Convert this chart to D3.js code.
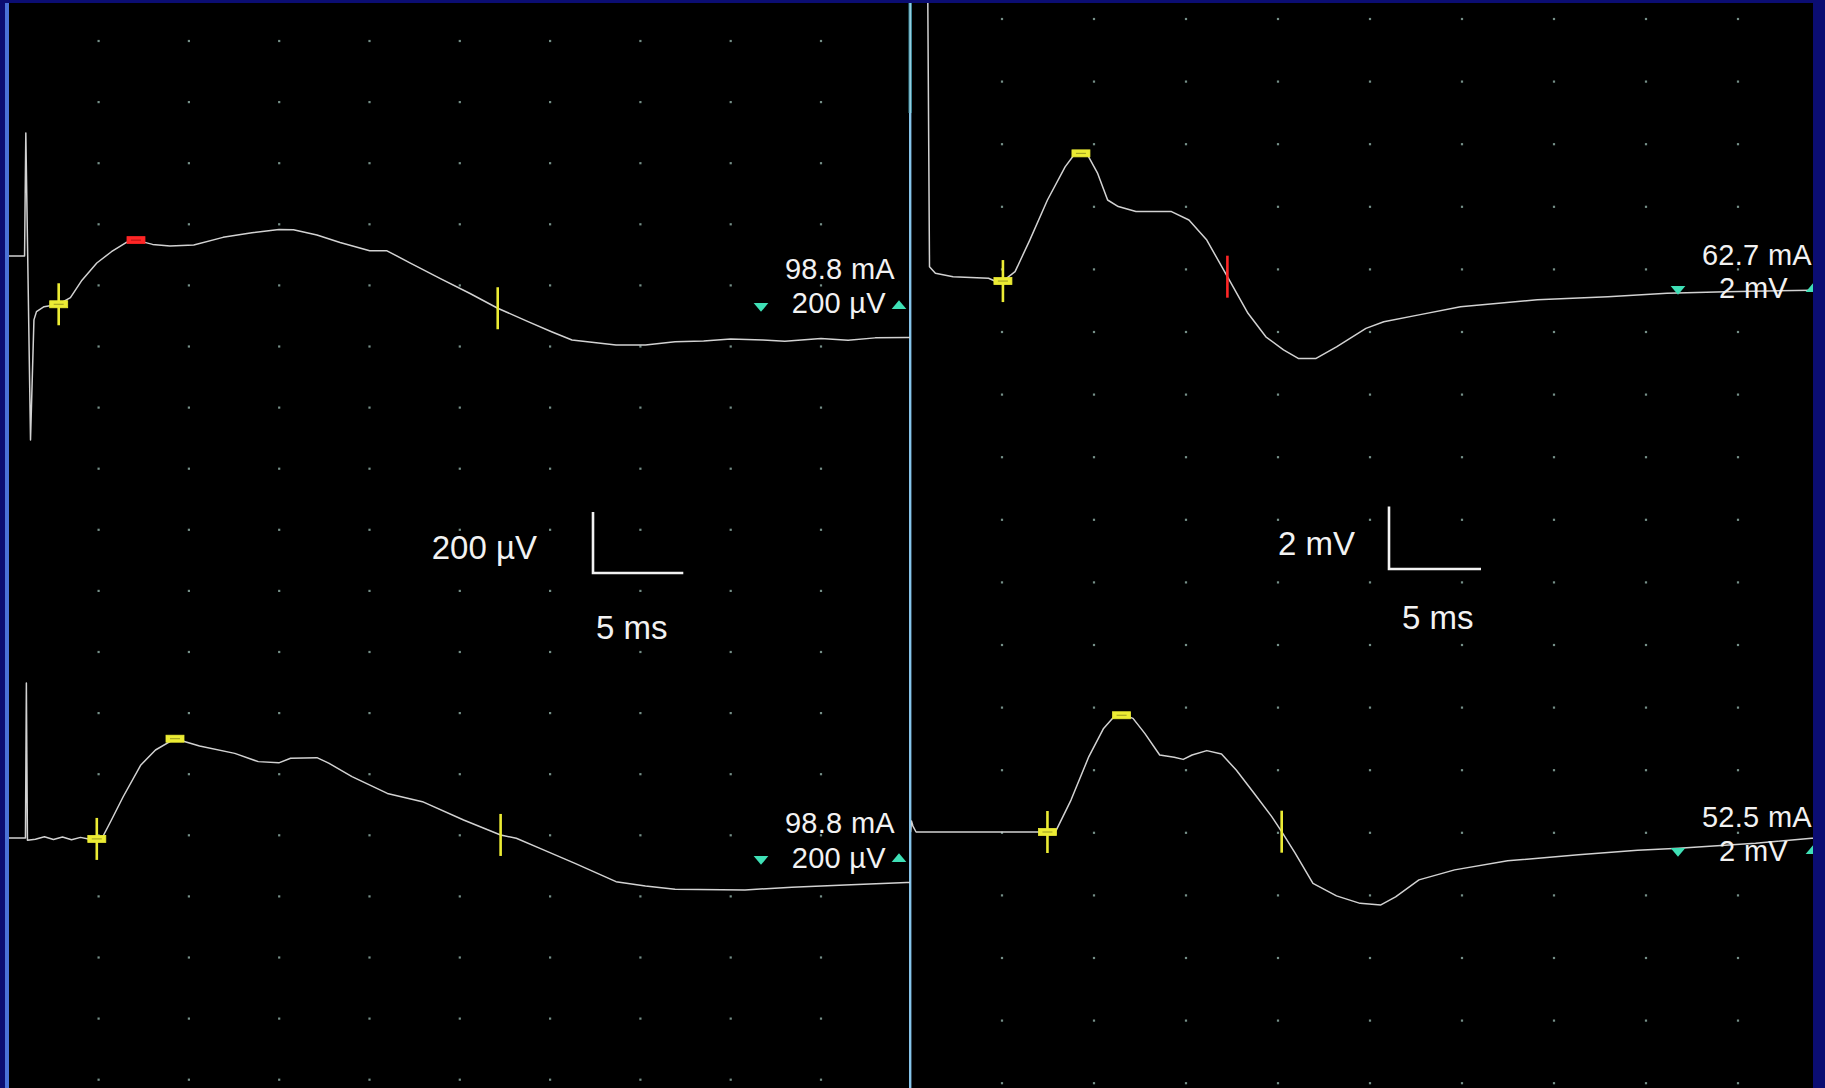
<!DOCTYPE html>
<html>
<head>
<meta charset="utf-8">
<script src="https://cdn.jsdelivr.net/npm/d3@7"></script>
<style>
  html, body { margin: 0; padding: 0; background: #0b0d72; overflow: hidden; }
  svg { display: block; }
  text { font-family: "Liberation Sans", Arial, sans-serif; fill: #f2f2f2; }
</style>
</head>
<body>
<svg id="chart" width="1825" height="1088"></svg>
<script>
// ---- Recorded traces: time in ms, amplitude in µV (left) or mV (right) ----
const leftTopTime = [0.03, 0.84, 0.9, 0.97, 1.23, 1.42, 1.56, 1.98, 2.79, 3.44, 4.08, 4.90, 5.71, 6.52, 7.07, 7.99, 8.95, 10.27, 11.89, 13.49, 14.99, 15.79, 17.09, 18.37, 20.01, 20.97, 22.29, 23.90, 25.54, 27.10, 28.78, 30.08, 31.21, 33.65, 35.28, 36.92, 38.5, 40.0, 41.79, 43.0, 45.0, 46.5, 48.0, 49.75, 50];
const leftTopAmp = [0, 0, 0, 403, -602, -209, -182, -166, -158, -136, -79, -23, 14, 44, 52, 38, 33, 36, 61, 76, 87, 86, 69, 44, 17, 17, -24, -73, -122, -171, -215, -248, -275, -291, -291, -281, -278, -272, -275, -279, -270, -276, -268, -267, -267];

const leftBottomTime = [0.03, 0.95, 1.0, 1.06, 1.5, 2.0, 2.5, 3.0, 3.5, 4.0, 4.5, 4.90, 5.23, 5.71, 6.36, 7.34, 8.15, 9.23, 10.59, 12.54, 13.84, 14.98, 15.63, 17.09, 17.74, 19.03, 20.99, 22.93, 25.21, 27.26, 28.13, 29.44, 31.38, 33.65, 35.28, 36.92, 40.79, 43.39, 46.33, 49.75, 50];
const leftBottomAmp = [0, 0, 507, -7, -4, 4, -5, 3, -6, 2, -4, -3, 4, 59, 135, 239, 288, 325, 301, 277, 250, 246, 261, 263, 245, 201, 146, 119, 59, 10, -1, -34, -83, -143, -157, -168, -170, -161, -154, -146, -146];

const rightTopTime = [0.96, 1.06, 1.38, 2.34, 4.27, 4.73, 5.05, 5.71, 6.51, 7.47, 8.43, 8.91, 9.29, 9.65, 10.20, 10.74, 11.32, 12.28, 14.21, 15.16, 16.13, 17.25, 18.37, 19.34, 20.30, 21.10, 22.07, 23.18, 24.78, 25.75, 27.66, 29.92, 34.09, 37.93, 41.14, 44.35, 49.0, 50];
const rightTopAmp = [9.5, 0.33, 0.12, 0.01, -0.04, -0.16, -0.13, 0.17, 1.18, 2.46, 3.52, 3.90, 3.95, 3.90, 3.31, 2.46, 2.25, 2.09, 2.09, 1.82, 1.18, 0.01, -1.16, -1.91, -2.33, -2.60, -2.60, -2.23, -1.64, -1.43, -1.21, -0.95, -0.73, -0.63, -0.52, -0.47, -0.42, -0.41];

const rightBottomTime = [0.03, 0.08, 0.16, 0.33, 0.42, 7.47, 7.95, 8.75, 9.72, 10.52, 11.00, 11.32, 11.68, 12.12, 12.76, 13.57, 14.36, 14.85, 15.33, 16.13, 16.93, 17.73, 18.70, 19.66, 20.20, 20.94, 21.90, 23.18, 24.46, 25.59, 26.39, 27.66, 29.60, 32.48, 36.33, 39.54, 41.78, 45.95, 49.0, 50];
const rightBottomAmp = [0, 0.35, 0.19, 0, 0, 0, 0.06, 1.02, 2.41, 3.31, 3.63, 3.74, 3.72, 3.63, 3.15, 2.46, 2.39, 2.32, 2.46, 2.60, 2.49, 1.98, 1.24, 0.49, 0.01, -0.68, -1.64, -2.04, -2.28, -2.33, -2.07, -1.53, -1.21, -0.92, -0.73, -0.58, -0.52, -0.36, -0.2, -0.17];

// ---- Cursor markers (ms) and their kinds ----
const leftTopMarkTimes = [2.79, 7.07, 27.1];
const leftTopMarkKinds = ["onset", "peakRed", "end"];
const leftBottomMarkTimes = [4.90, 9.23, 27.26];
const leftBottomMarkKinds = ["onset", "peak", "end"];
const rightTopMarkTimes = [5.05, 9.29, 17.25];
const rightTopMarkKinds = ["onset", "peak", "endRed"];
const rightBottomMarkTimes = [7.47, 11.5, 20.2];
const rightBottomMarkKinds = ["onset", "peak", "end"];

// ---- Channel readouts ----
const stimCurrents = ["98.8 mA", "98.8 mA", "62.7 mA", "52.5 mA"];
const sensitivities = ["200 µV", "200 µV", "2 mV", "2 mV"];

// ---- Calibration bars ----
const calAmplitudes = [200, 2];          // µV (left), mV (right)
const calAmpLabels = ["200 µV", "2 mV"];
const calTime = 5;                       // ms
const calTimeLabel = "5 ms";

// ---- Display grid: 5 ms per division, 18 rows of dots ----
const gridTimes = [5, 10, 15, 20, 25, 30, 35, 40, 45];
const gridRows = d3.range(18);

const svg = d3.select("#chart");
const W = 1825, H = 1088;

// background and frame
svg.append("rect").attr("width", W).attr("height", H).attr("fill", "#0b0d72");
svg.append("rect").attr("x", 9).attr("y", 3).attr("width", 1804).attr("height", H - 3).attr("fill", "#000");
svg.append("rect").attr("x", 5).attr("y", 3).attr("width", 4).attr("height", H - 3).attr("fill", "#4a72d8");

// panel geometry
const panels = {
  left:  { x: d3.scaleLinear().domain([0, 50]).range([8.3, 911.3]),
           row: d3.scaleLinear().domain([0, 1]).range([41, 102.1]),
           divPx: 61.1, unitPerDiv: 200, clip: [9, 3, 901, H - 3] },
  right: { x: d3.scaleLinear().domain([0, 50]).range([910, 1830]),
           row: d3.scaleLinear().domain([0, 1]).range([19, 81.6]),
           divPx: 62.6, unitPerDiv: 2, clip: [911, 3, 902, H - 3] }
};

const defs = svg.append("defs");
Object.entries(panels).forEach(([k, p]) => {
  defs.append("clipPath").attr("id", "clip-" + k)
    .append("rect").attr("x", p.clip[0]).attr("y", p.clip[1])
    .attr("width", p.clip[2]).attr("height", p.clip[3]);
});

// grid dots
Object.entries(panels).forEach(([k, p]) => {
  const g = svg.append("g").attr("clip-path", `url(#clip-${k})`);
  gridRows.forEach(r => {
    gridTimes.forEach(t => {
      g.append("rect")
        .attr("x", p.x(t) - 1.1).attr("y", p.row(r) - 1.1)
        .attr("width", 2.2).attr("height", 2.2)
        .attr("fill", "#8aa8a0").attr("opacity", 0.85);
    });
  });
});

// divider between the two recordings
svg.append("rect").attr("x", 909).attr("y", 3).attr("width", 2.4).attr("height", H - 3).attr("fill", "#86c4ea");
svg.append("rect").attr("x", 908.5).attr("y", 3).attr("width", 3.4).attr("height", 110).attr("fill", "#3f8a9c");
svg.append("rect").attr("x", 909.5).attr("y", 3).attr("width", 1.4).attr("height", 110).attr("fill", "#9fd6e8");

// channels
const channels = [
  { panel: "left",  zero: 256, t: leftTopTime, v: leftTopAmp, mt: leftTopMarkTimes, mk: leftTopMarkKinds,
    label: { curY: 279, curX: 895, senY: 313, senX: 886, triY: 306, triDown: 761, triUp: 899 } },
  { panel: "left",  zero: 838, t: leftBottomTime, v: leftBottomAmp, mt: leftBottomMarkTimes, mk: leftBottomMarkKinds,
    label: { curY: 833, curX: 895, senY: 868, senX: 886, triY: 859, triDown: 761, triUp: 899 } },
  { panel: "right", zero: 277, t: rightTopTime, v: rightTopAmp, mt: rightTopMarkTimes, mk: rightTopMarkKinds,
    label: { curY: 265, curX: 1812, senY: 298, senX: 1788, triY: 289, triDown: 1678, triUp: 1813 } },
  { panel: "right", zero: 832, t: rightBottomTime, v: rightBottomAmp, mt: rightBottomMarkTimes, mk: rightBottomMarkKinds,
    label: { curY: 827, curX: 1812, senY: 861, senX: 1788, triY: 851, triDown: 1678, triUp: 1813 } }
];

const bis = d3.bisector(d => d).left;
function ampAt(ts, vs, t) {
  const i = Math.max(1, Math.min(ts.length - 1, bis(ts, t)));
  const a = ts[i - 1], b = ts[i];
  const f = (t - a) / (b - a);
  return vs[i - 1] + f * (vs[i] - vs[i - 1]);
}

const yellow = "#ecec34", red = "#ff2626", teal = "#3fe0b6";

channels.forEach((ch, ci) => {
  const p = panels[ch.panel];
  const x = p.x;
  const y = d3.scaleLinear().domain([0, p.unitPerDiv]).range([ch.zero, ch.zero - p.divPx]);
  const g = svg.append("g").attr("clip-path", `url(#clip-${ch.panel})`);

  const pts = ch.t.map((t, i) => [t, ch.v[i]]);
  const line = d3.line().x(d => x(d[0])).y(d => y(d[1])).curve(d3.curveLinear);
  g.append("path").attr("d", line(pts))
    .attr("fill", "none").attr("stroke", "#d2d2d2").attr("stroke-width", 1.5)
    .attr("stroke-linejoin", "round");

  // cursor markers sit on the trace
  ch.mt.forEach((t, i) => {
    const kind = ch.mk[i];
    const cx = x(t), cy = y(ampAt(ch.t, ch.v, t));
    if (kind === "onset" || kind === "end" || kind === "endRed") {
      g.append("line").attr("x1", cx).attr("x2", cx).attr("y1", cy - 21).attr("y2", cy + 21)
        .attr("stroke", kind === "endRed" ? red : yellow).attr("stroke-width", 2.6);
    }
    if (kind === "onset" || kind === "peak" || kind === "peakRed") {
      const c = kind === "peakRed" ? red : yellow;
      g.append("rect").attr("x", cx - 9).attr("y", cy - 3.5).attr("width", 18).attr("height", 7)
        .attr("fill", c).attr("stroke", c).attr("stroke-width", 0.8);
      g.append("line").attr("x1", cx - 5).attr("x2", cx + 5).attr("y1", cy).attr("y2", cy)
        .attr("stroke", kind === "peakRed" ? "#b01010" : "#9a9a20").attr("stroke-width", 1);
    }
  });

  // readouts
  const L = ch.label;
  svg.append("text").attr("x", L.curX).attr("y", L.curY).attr("text-anchor", "end")
    .attr("font-size", 29).attr("letter-spacing", 0.3).text(stimCurrents[ci]);
  svg.append("text").attr("x", L.senX).attr("y", L.senY).attr("text-anchor", "end")
    .attr("font-size", 29).attr("letter-spacing", 0.3).text(sensitivities[ci]);
  const tri = d3.symbol().type(d3.symbolTriangle).size(85);
  svg.append("path").attr("d", tri())
    .attr("transform", `translate(${L.triDown},${L.triY}) scale(1.05,-0.72)`).attr("fill", teal);
  svg.append("path").attr("d", tri())
    .attr("transform", `translate(${L.triUp},${L.triY}) scale(1.05,0.72)`).attr("fill", teal);
});

// right frame covers anything running past the screen edge
svg.append("rect").attr("x", 1813).attr("y", 0).attr("width", W - 1813).attr("height", H).attr("fill", "#0b0d72");
svg.append("rect").attr("x", 0).attr("y", 0).attr("width", W).attr("height", 3).attr("fill", "#0b0d72");

// calibration bars
const calBars = [
  { panel: "left",  cx: 593,  cy: 573, ampX: 537,  ampY: 559, timeX: 596,  timeY: 639 },
  { panel: "right", cx: 1389, cy: 569, ampX: 1355, ampY: 555, timeX: 1402, timeY: 629 }
];
calBars.forEach((c, i) => {
  const p = panels[c.panel];
  const dx = p.x(calTime) - p.x(0);
  const dy = p.divPx * calAmplitudes[i] / p.unitPerDiv;
  svg.append("path")
    .attr("d", `M${c.cx},${c.cy - dy}V${c.cy}H${c.cx + dx}`)
    .attr("fill", "none").attr("stroke", "#f2f2f2").attr("stroke-width", 2.6);
  svg.append("text").attr("x", c.ampX).attr("y", c.ampY).attr("text-anchor", "end")
    .attr("font-size", 33).text(calAmpLabels[i]);
  svg.append("text").attr("x", c.timeX).attr("y", c.timeY)
    .attr("font-size", 33).text(calTimeLabel);
});
</script>
</body>
</html>
